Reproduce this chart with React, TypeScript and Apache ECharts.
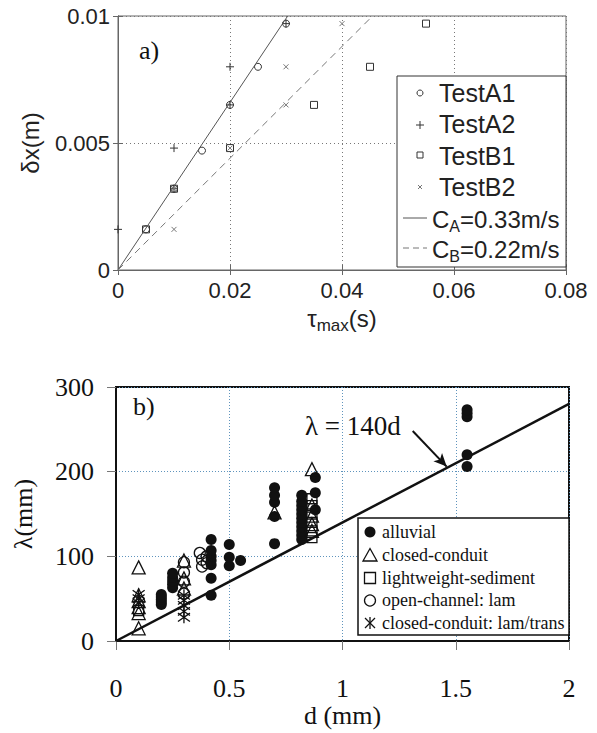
import React, { useEffect, useRef } from 'react';
import * as echarts from 'echarts';

// ---------- Panel a) data ----------
const topXTicks = { min: 0, max: 0.08, interval: 0.02 };
const topYTicks = { min: 0, max: 0.01, interval: 0.005 };
const testA1 = [[0.005, 0.0016], [0.01, 0.0032], [0.015, 0.0047], [0.02, 0.0065], [0.025, 0.008], [0.03, 0.0097]];
const testA2 = [[0, 0.0016], [0.01, 0.0032], [0.01, 0.0048], [0.02, 0.0065], [0.02, 0.008], [0.03, 0.0097]];
const testB1 = [[0.005, 0.0016], [0.01, 0.0032], [0.02, 0.0048], [0.035, 0.0065], [0.045, 0.008], [0.055, 0.0097]];
const testB2 = [[0.01, 0.0016], [0.01, 0.0032], [0.02, 0.0048], [0.03, 0.0065], [0.03, 0.008], [0.04, 0.0097]];
const cA = 0.33;
const cB = 0.22;

// ---------- Panel b) data ----------
const botXTicks = { min: 0, max: 2, interval: 0.5 };
const botYTicks = { min: 0, max: 300, interval: 100 };
const alluvial = [
  [0.2, 43], [0.2, 46], [0.2, 49], [0.2, 52], [0.2, 55],
  [0.25, 63], [0.25, 67], [0.25, 71], [0.25, 75], [0.25, 80],
  [0.42, 54], [0.42, 74], [0.42, 90], [0.42, 95], [0.42, 100], [0.42, 107], [0.42, 120],
  [0.5, 89], [0.5, 99], [0.5, 114], [0.55, 95],
  [0.7, 115], [0.7, 147], [0.7, 164], [0.7, 172], [0.7, 181],
  [0.82, 120], [0.82, 125], [0.82, 130], [0.82, 135], [0.82, 140], [0.82, 145], [0.82, 150], [0.82, 155], [0.82, 160], [0.82, 165], [0.82, 172],
  [0.88, 155], [0.88, 175], [0.88, 193],
  [1.55, 206], [1.55, 220], [1.55, 265], [1.55, 269], [1.55, 273],
];
const closedConduit = [
  [0.1, 15], [0.1, 33], [0.1, 40], [0.1, 47], [0.1, 54], [0.1, 87],
  [0.3, 62], [0.3, 74], [0.3, 95],
  [0.7, 152],
  [0.865, 130], [0.865, 138], [0.865, 148], [0.865, 160], [0.865, 203],
];
const lightweight = [
  [0.1, 36],
  [0.865, 122], [0.865, 130], [0.865, 140], [0.865, 150], [0.865, 160], [0.865, 168],
];
const openChannel = [
  [0.3, 56], [0.3, 70], [0.3, 81], [0.3, 93],
  [0.37, 104], [0.38, 96], [0.38, 88], [0.4, 100], [0.4, 92],
];
const closedLamTrans = [
  [0.1, 45], [0.1, 50], [0.1, 55],
  [0.3, 28], [0.3, 35], [0.3, 42], [0.3, 48], [0.3, 54],
];
const fitSlope = 140;
const arrowFrom = [1.31, 248];
const arrowTo = [1.46, 206];

const SANS = 'Liberation Sans, Arial, sans-serif';
const SERIF = 'Liberation Serif, Times New Roman, serif';

const PLUS = 'path://M0,5L10,5M5,0L5,10';
const CROSS = 'path://M0,0L10,10M0,10L10,0';
const SQUARE = 'path://M0,0L10,0L10,10L0,10Z';
const ASTER = 'path://M5,0L5,10M0,1.5L10,8.5M0,8.5L10,1.5';

export default function App() {
  const ref = useRef<HTMLDivElement>(null);
  useEffect(() => {
    document.body.style.margin = '0';
    const chart = echarts.init(ref.current!, null, { renderer: 'svg' });
    const clear = 'rgba(0,0,0,0)';
    const topAxisLine = { lineStyle: { color: '#666', width: 1 } };
    const topTick = { show: true, inside: true, length: 5, lineStyle: { color: '#666' } };
    const botTick = { show: true, inside: false, length: 9, lineStyle: { color: '#777', width: 1 } };
    const hollow = (c: string, w: number) => ({ color: clear, borderColor: c, borderWidth: w, opacity: 1 });

    const option: any = {
      animation: false,
      backgroundColor: '#fff',
      grid: [
        { left: 118, top: 16, width: 448, height: 254, show: true, borderColor: '#666', borderWidth: 1, backgroundColor: clear },
        { left: 116, top: 387, width: 453, height: 254, show: true, borderColor: '#111', borderWidth: 2, backgroundColor: clear },
      ],
      xAxis: [
        {
          gridIndex: 0, type: 'value', ...topXTicks,
          axisLine: topAxisLine, axisTick: topTick,
          axisLabel: { fontSize: 22, color: '#222', fontFamily: SANS, margin: 9 },
          splitLine: { show: true, lineStyle: { color: '#777', type: [1, 3], width: 1 } },
          name: '{n|τ}{s|max}{n|(s)}', nameLocation: 'middle', nameGap: 33,
          nameTextStyle: {
            rich: {
              n: { fontSize: 24, fontFamily: SANS, color: '#222', lineHeight: 26 },
              s: { fontSize: 17, fontFamily: SANS, color: '#222', padding: [14, 0, 0, 0] },
            },
          },
        },
        {
          gridIndex: 0, type: 'value', position: 'top', ...topXTicks,
          axisLine: topAxisLine, axisTick: topTick, axisLabel: { show: false }, splitLine: { show: false },
        },
        {
          gridIndex: 1, type: 'value', ...botXTicks,
          axisLine: { lineStyle: { color: '#111', width: 2 } }, axisTick: botTick,
          axisLabel: { fontSize: 26, color: '#111', fontFamily: SERIF, margin: 34 },
          splitLine: { show: true, lineStyle: { color: '#5f94bd', type: [1, 2], width: 1 } },
          name: 'd (mm)', nameLocation: 'middle', nameGap: 61,
          nameTextStyle: { fontSize: 26, color: '#111', fontFamily: SERIF },
        },
      ],
      yAxis: [
        {
          gridIndex: 0, type: 'value', ...topYTicks,
          axisLine: topAxisLine, axisTick: topTick,
          axisLabel: { fontSize: 22, color: '#222', fontFamily: SANS, margin: 8 },
          splitLine: { show: true, lineStyle: { color: '#777', type: [1, 3], width: 1 } },
          name: 'δx(m)', nameLocation: 'middle', nameGap: 76,
          nameTextStyle: { fontSize: 24, color: '#222', fontFamily: SANS },
        },
        {
          gridIndex: 0, type: 'value', position: 'right', ...topYTicks,
          axisLine: topAxisLine, axisTick: topTick, axisLabel: { show: false }, splitLine: { show: false },
        },
        {
          gridIndex: 1, type: 'value', ...botYTicks,
          axisLine: { lineStyle: { color: '#111', width: 2 } }, axisTick: botTick,
          axisLabel: { fontSize: 26, color: '#111', fontFamily: SERIF, margin: 22 },
          splitLine: { show: true, lineStyle: { color: '#5f94bd', type: [1, 2], width: 1 } },
          name: 'λ(mm)', nameLocation: 'middle', nameGap: 80,
          nameTextStyle: { fontSize: 26, color: '#111', fontFamily: SERIF },
        },
      ],
      series: [
        { name: 'TestA1', type: 'scatter', xAxisIndex: 0, yAxisIndex: 0, data: testA1, symbol: 'circle', symbolSize: 7,
          itemStyle: hollow('#333', 1) },
        { name: 'TestA2', type: 'scatter', xAxisIndex: 0, yAxisIndex: 0, data: testA2, symbol: PLUS, symbolSize: 8,
          itemStyle: hollow('#333', 1) },
        { name: 'TestB1', type: 'scatter', xAxisIndex: 0, yAxisIndex: 0, data: testB1, symbol: SQUARE, symbolSize: 7,
          itemStyle: hollow('#333', 1) },
        { name: 'TestB2', type: 'scatter', xAxisIndex: 0, yAxisIndex: 0, data: testB2, symbol: CROSS, symbolSize: 5,
          itemStyle: hollow('#777', 1) },
        { name: 'cA', type: 'line', xAxisIndex: 0, yAxisIndex: 0, data: [[0, 0], [topYTicks.max / cA, topYTicks.max]],
          symbol: 'none', lineStyle: { color: '#555', width: 1 } },
        { name: 'cB', type: 'line', xAxisIndex: 0, yAxisIndex: 0, data: [[0, 0], [topYTicks.max / cB, topYTicks.max]],
          symbol: 'none', lineStyle: { color: '#777', width: 1, type: [7, 5] } },

        { name: 'fit', type: 'line', xAxisIndex: 2, yAxisIndex: 2,
          data: [[botXTicks.min, fitSlope * botXTicks.min], [botXTicks.max, fitSlope * botXTicks.max]],
          symbol: 'none', lineStyle: { color: '#111', width: 2.5 }, z: 1,
          markLine: {
            silent: true, symbol: ['none', 'arrow'], symbolSize: [9, 13],
            lineStyle: { color: '#111', width: 2, type: 'solid' }, label: { show: false },
            data: [[{ coord: arrowFrom }, { coord: arrowTo }]],
          } },
        { name: 'alluvial', type: 'scatter', xAxisIndex: 2, yAxisIndex: 2, data: alluvial, symbol: 'circle', symbolSize: 11,
          itemStyle: { color: '#111', opacity: 1 } },
        { name: 'closed-conduit', type: 'scatter', xAxisIndex: 2, yAxisIndex: 2, data: closedConduit, symbol: 'triangle', symbolSize: 13,
          itemStyle: hollow('#111', 1.3) },
        { name: 'lightweight-sediment', type: 'scatter', xAxisIndex: 2, yAxisIndex: 2, data: lightweight, symbol: 'rect', symbolSize: 10,
          itemStyle: hollow('#111', 1.3) },
        { name: 'open-channel: lam', type: 'scatter', xAxisIndex: 2, yAxisIndex: 2, data: openChannel, symbol: 'circle', symbolSize: 11,
          itemStyle: hollow('#111', 1.3) },
        { name: 'closed-conduit: lam/trans', type: 'scatter', xAxisIndex: 2, yAxisIndex: 2, data: closedLamTrans, symbol: ASTER, symbolSize: 12,
          itemStyle: hollow('#111', 1.3) },
      ],
      graphic: [
        // panel labels
        { type: 'text', z: 100, x: 139, y: 50, style: { text: 'a)', font: `26px ${SERIF}`, fill: '#111', verticalAlign: 'middle' } },
        { type: 'text', z: 100, x: 133, y: 406, style: { text: 'b)', font: `26px ${SERIF}`, fill: '#111', verticalAlign: 'middle' } },
        { type: 'text', z: 100, x: 305, y: 426, style: { text: 'λ = 140d', font: `27px ${SERIF}`, fill: '#111', verticalAlign: 'middle' } },

        // legend a)
        { type: 'rect', z: 100, shape: { x: 397, y: 76, width: 169, height: 191 }, style: { fill: '#fff', stroke: '#333', lineWidth: 1 } },
        { type: 'circle', z: 101, shape: { cx: 420, cy: 93, r: 3 }, style: { fill: 'none', stroke: '#333', lineWidth: 1 } },
        { type: 'line', z: 101, shape: { x1: 416, y1: 125, x2: 424, y2: 125 }, style: { stroke: '#333', lineWidth: 1 } },
        { type: 'line', z: 101, shape: { x1: 420, y1: 121, x2: 420, y2: 129 }, style: { stroke: '#333', lineWidth: 1 } },
        { type: 'rect', z: 101, shape: { x: 417, y: 152, width: 6, height: 6 }, style: { fill: 'none', stroke: '#333', lineWidth: 1 } },
        { type: 'line', z: 101, shape: { x1: 418, y1: 185, x2: 422, y2: 189 }, style: { stroke: '#777', lineWidth: 1 } },
        { type: 'line', z: 101, shape: { x1: 418, y1: 189, x2: 422, y2: 185 }, style: { stroke: '#777', lineWidth: 1 } },
        { type: 'line', z: 101, shape: { x1: 403, y1: 218, x2: 427, y2: 218 }, style: { stroke: '#555', lineWidth: 1 } },
        { type: 'line', z: 101, shape: { x1: 403, y1: 248, x2: 427, y2: 248 }, style: { stroke: '#777', lineWidth: 1, lineDash: [6, 4] } },
        ...['TestA1', 'TestA2', 'TestB1', 'TestB2'].map((t, i) => ({
          type: 'text', z: 101, x: 439, y: 93 + i * 31.3,
          style: { text: t, font: `25px ${SANS}`, fill: '#222', verticalAlign: 'middle' },
        })),
        ...[['A', '0.33'], ['B', '0.22']].map(([s, v], i) => ({
          type: 'text', z: 101, x: 432, y: 219 + i * 30,
          style: {
            text: `{n|C}{s|${s}}{n|=${v}m/s}`, fill: '#222', verticalAlign: 'middle',
            rich: {
              n: { fontSize: 24, fontFamily: SANS, fill: '#222' },
              s: { fontSize: 16, fontFamily: SANS, fill: '#222', padding: [14, 0, 0, 0] },
            },
          },
        })),

        // legend b)
        { type: 'rect', z: 100, shape: { x: 358, y: 518, width: 211, height: 117 }, style: { fill: '#fff', stroke: '#111', lineWidth: 1.5 } },
        { type: 'circle', z: 101, shape: { cx: 370, cy: 532, r: 5.5 }, style: { fill: '#111' } },
        { type: 'polygon', z: 101, shape: { points: [[370, 548.5], [377, 561], [363, 561]] }, style: { fill: 'none', stroke: '#111', lineWidth: 1.3 } },
        { type: 'rect', z: 101, shape: { x: 364.5, y: 572.5, width: 11, height: 11 }, style: { fill: 'none', stroke: '#111', lineWidth: 1.3 } },
        { type: 'circle', z: 101, shape: { cx: 370, cy: 600.5, r: 5.5 }, style: { fill: 'none', stroke: '#111', lineWidth: 1.3 } },
        { type: 'line', z: 101, shape: { x1: 370, y1: 617, x2: 370, y2: 629 }, style: { stroke: '#111', lineWidth: 1.3 } },
        { type: 'line', z: 101, shape: { x1: 365, y1: 618, x2: 375, y2: 628 }, style: { stroke: '#111', lineWidth: 1.3 } },
        { type: 'line', z: 101, shape: { x1: 365, y1: 628, x2: 375, y2: 618 }, style: { stroke: '#111', lineWidth: 1.3 } },
        ...['alluvial', 'closed-conduit', 'lightweight-sediment', 'open-channel: lam', 'closed-conduit: lam/trans'].map((t, i) => ({
          type: 'text', z: 101, x: 382, y: 532 + i * 22.8,
          style: { text: t, font: `18px ${SERIF}`, fill: '#111', verticalAlign: 'middle' },
        })),
      ],
    };
    chart.setOption(option);
    return () => chart.dispose();
  }, []);
  return <div ref={ref} style={{ width: 597, height: 733 }} />;
}
